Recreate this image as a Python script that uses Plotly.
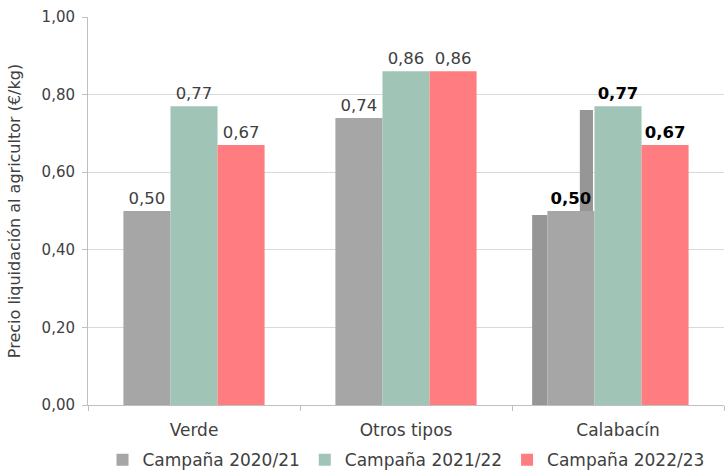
import plotly.graph_objects as go

categories = ["Verde", "Otros tipos", "Calabacín"]
series_names = ["Campaña 2020/21", "Campaña 2021/22", "Campaña 2022/23"]
v_2020 = [0.50, 0.74, 0.50]
v_2021 = [0.77, 0.86, 0.77]
v_2022 = [0.67, 0.86, 0.67]
# stray shadow bars visible behind the Calabacín group in the original
shadow_cat = ["Calabacín", "Calabacín"]
shadow_vals = [0.49, 0.76]

colors = ["#A6A6A6", "#A0C5B6", "#FF7C80"]
values = [v_2020, v_2021, v_2022]
W = 0.222
offsets = [-0.333, -0.111, 0.111]
FONT = "DejaVu Sans"

fig = go.Figure()
fig.add_trace(go.Bar(x=[shadow_cat[0]], y=[shadow_vals[0]], width=[0.072], offset=[-0.405],
                     marker=dict(color="#969696", line=dict(width=0)), showlegend=False, hoverinfo="skip"))
fig.add_trace(go.Bar(x=[shadow_cat[1]], y=[shadow_vals[1]], width=[0.062], offset=[-0.18],
                     marker=dict(color="#969696", line=dict(width=0)), showlegend=False, hoverinfo="skip"))

for i in range(3):
    txt = []
    cols = []
    for j, v in enumerate(values[i]):
        s = f"{v:.2f}".replace(".", ",")
        if categories[j] == "Calabacín":
            txt.append("<b>%s</b>" % s)
            cols.append("#000000")
        else:
            txt.append(s)
            cols.append("#404040")
    fig.add_trace(go.Bar(
        x=categories, y=values[i], name=series_names[i],
        width=[W] * 3, offset=[offsets[i]] * 3,
        marker=dict(color=colors[i], line=dict(width=0)),
        text=txt, textposition="outside",
        textfont=dict(size=16.5, color=cols, family=FONT),
        cliponaxis=False,
    ))

fig.update_layout(
    width=726, height=471,
    barmode="overlay",
    separators=",.",
    plot_bgcolor="white", paper_bgcolor="white",
    margin=dict(l=88, r=2, t=17, b=66),
    font=dict(family=FONT, size=15, color="#404040"),
    showlegend=True,
    legend=dict(orientation="h", x=0.5, xanchor="center", yref="container", y=0.023, yanchor="middle",
                font=dict(size=17, color="#404040"), traceorder="normal",
                itemwidth=30),
)
fig.update_yaxes(range=[0, 1.0], dtick=0.2, tickformat=".2f",
                 showgrid=True, gridcolor="#D9D9D9", gridwidth=1,
                 showline=True, linecolor="#BFBFBF", linewidth=1,
                 ticks="outside", ticklen=5, tickcolor="#BFBFBF",
                 tickfont=dict(size=15, color="#404040"),
                 ticklabelstandoff=4,
                 title=dict(text="Precio liquidación al agricultor (€/kg)", font=dict(size=16, color="#404040"), standoff=16),
                 zeroline=False)
fig.update_xaxes(showline=True, linecolor="#BFBFBF", linewidth=1,
                 ticks="outside", tickson="boundaries", ticklen=5, tickcolor="#BFBFBF",
                 tickfont=dict(size=17, color="#404040"),
                 ticklabelstandoff=10,
                 categoryorder="array", categoryarray=categories,
                 range=[-0.5, 2.5])

fig.write_html("out.html")
